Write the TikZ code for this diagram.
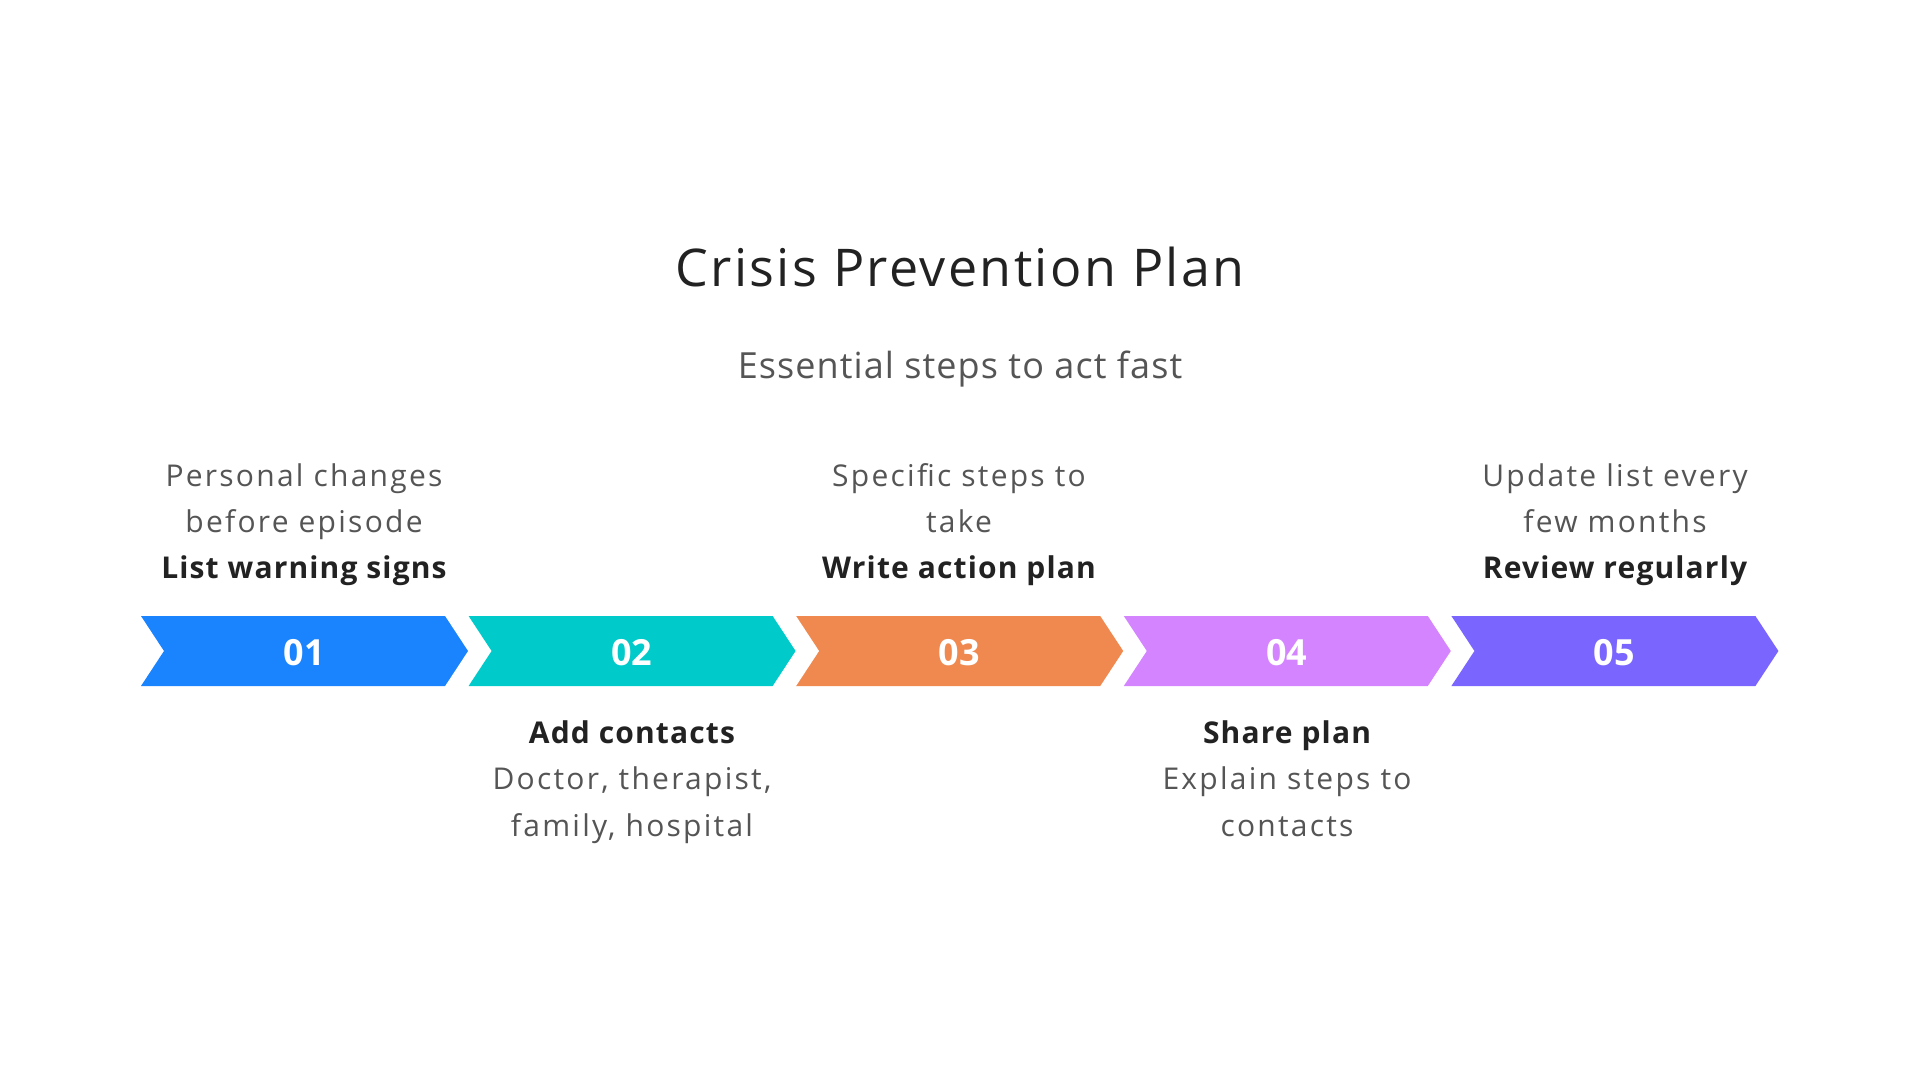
\documentclass[tikz,border=0pt]{standalone}
\usepackage{fontspec}
\setmainfont{Open Sans}
\definecolor{cblue}{RGB}{26,132,255}
\definecolor{cteal}{RGB}{0,202,202}
\definecolor{corange}{RGB}{240,137,80}
\definecolor{cpink}{RGB}{212,132,255}
\definecolor{cviolet}{RGB}{122,102,255}
\definecolor{tdark}{RGB}{34,34,34}
\definecolor{tgray}{RGB}{85,85,85}
\tikzset{
  numtext/.style={text=white,anchor=base,inner sep=0pt,font=\fontsize{18}{20}\selectfont\bfseries},
  desc/.style={anchor=base,inner sep=0pt,text=tgray,font=\fontsize{15}{18}\selectfont\addfontfeatures{LetterSpace=7.5}},
  head/.style={anchor=base,inner sep=0pt,text=tdark,font=\fontsize{15}{18}\selectfont\bfseries\addfontfeatures{LetterSpace=3.8}},
}
\begin{document}
\begin{tikzpicture}[x=0.5pt,y=-0.5pt]
\useasboundingbox (0,0) rectangle (1920,1080);
\fill[white] (0,0) rectangle (1920,1080);
\node[anchor=base,inner sep=0pt,font=\fontsize{26}{30}\selectfont\addfontfeatures{LetterSpace=4.6},text=tdark] (title) at (960,287) {Crisis Prevention Plan};
\node[anchor=base,inner sep=0pt,font=\fontsize{18}{22}\selectfont\addfontfeatures{LetterSpace=3},text=tgray] (subtitle) at (960,379) {Essential steps to act fast};
\foreach \i/\c/\n in {0/cblue/01,1/cteal/02,2/corange/03,3/cpink/04,4/cviolet/05}{
  \pgfmathsetmacro{\xo}{141+327.6*\i}
  \fill[\c] (\xo,616) -- ({\xo+304},616) -- ({\xo+327},651) -- ({\xo+304},686) -- (\xo,686) -- ({\xo+23},651) -- cycle;
  \node[numtext] (n\n) at ({\xo+163},665) {\n};
}
% top labels
\node[desc] (t1a) at (304,486) {Personal changes};
\node[desc] (t1b) at (304,532) {before episode};
\node[head] (t1c) at (304,578.5) {List warning signs};
\node[desc] (t3a) at (959,486) {Specific steps to};
\node[desc] (t3b) at (959,532) {take};
\node[head] (t3c) at (959,578.5) {Write action plan};
\node[desc] (t5a) at (1615,486) {Update list every};
\node[desc] (t5b) at (1615,532) {few months};
\node[head] (t5c) at (1615,578.5) {Review regularly};
% bottom labels
\node[head] (t2a) at (632,743) {Add contacts};
\node[desc] (t2b) at (632,789) {Doctor, therapist,};
\node[desc] (t2c) at (632,836) {family, hospital};
\node[head] (t4a) at (1287,743) {Share plan};
\node[desc] (t4b) at (1287,789) {Explain steps to};
\node[desc] (t4c) at (1287,836) {contacts};
\end{tikzpicture}
\end{document}
